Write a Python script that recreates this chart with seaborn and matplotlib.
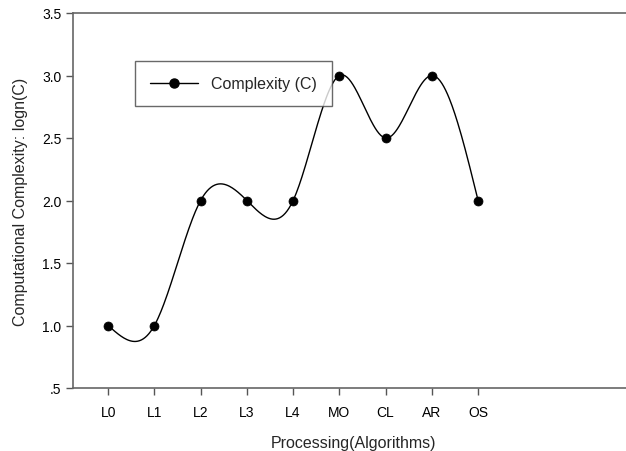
import numpy as np
import pandas as pd
import matplotlib
matplotlib.use("Agg")
import matplotlib.pyplot as plt
import seaborn as sns
from matplotlib.lines import Line2D

categories = ["L0", "L1", "L2", "L3", "L4", "MO", "CL", "AR", "OS"]
complexity = [1.0, 1.0, 2.0, 2.0, 2.0, 3.0, 2.5, 3.0, 2.0]
ytick_vals = [0.5, 1.0, 1.5, 2.0, 2.5, 3.0, 3.5]
ytick_labels = [".5", "1.0", "1.5", "2.0", "2.5", "3.0", "3.5"]

sns.set_style("ticks")
plt.rcParams["font.family"] = ["Liberation Sans", "DejaVu Sans"]


def natural_spline(x, y, n=400):
    x = np.asarray(x, float)
    y = np.asarray(y, float)
    m = len(x)
    h = np.diff(x)
    A = np.zeros((m, m))
    b = np.zeros(m)
    A[0, 0] = 1
    A[-1, -1] = 1
    for i in range(1, m - 1):
        A[i, i - 1] = h[i - 1]
        A[i, i] = 2 * (h[i - 1] + h[i])
        A[i, i + 1] = h[i]
        b[i] = 3 * ((y[i + 1] - y[i]) / h[i] - (y[i] - y[i - 1]) / h[i - 1])
    c = np.linalg.solve(A, b)
    xs = np.linspace(x[0], x[-1], n)
    ys = np.empty_like(xs)
    for k, xv in enumerate(xs):
        i = min(np.searchsorted(x, xv, side="right") - 1, m - 2)
        dx = xv - x[i]
        bi = (y[i + 1] - y[i]) / h[i] - h[i] * (2 * c[i] + c[i + 1]) / 3
        di = (c[i + 1] - c[i]) / (3 * h[i])
        ys[k] = y[i] + bi * dx + c[i] * dx ** 2 + di * dx ** 3
    return xs, ys


df = pd.DataFrame({"x": np.arange(len(categories)), "y": complexity})
xs, ys = natural_spline(df["x"], df["y"])
curve = pd.DataFrame({"x": xs, "y": ys})

fig = plt.figure(figsize=(6.26, 4.52), dpi=100)
ax = fig.add_axes([73 / 626, 1 - 389 / 452, 560 / 626, (389 - 14) / 452])

sns.lineplot(data=curve, x="x", y="y", ax=ax, color="black", linewidth=1.0,
             sort=False, estimator=None)
sns.scatterplot(data=df, x="x", y="y", ax=ax, color="black", s=42,
                edgecolor="black", zorder=3)

ax.set_xlim(-0.76, 11.35)
ax.set_ylim(0.5, 3.5)
ax.set_xticks(range(len(categories)))
ax.set_xticklabels(categories)
ax.set_yticks(ytick_vals)
ax.set_yticklabels(ytick_labels)
ax.tick_params(axis="both", labelsize=10, direction="out", length=5,
               width=1, color="#555555", labelcolor="black")
ax.tick_params(axis="x", pad=7)
ax.set_xlabel("Processing(Algorithms)", fontsize=11.5, labelpad=12)
ax.set_ylabel("Computational Complexity: logn(C)", fontsize=11.5, labelpad=10)

for side in ["left", "bottom", "top"]:
    ax.spines[side].set_color("#666666")
    ax.spines[side].set_linewidth(1.2)
ax.spines["right"].set_visible(False)

handle = Line2D([0], [0], color="black", linewidth=1.0, marker="o",
                markersize=6.5, markerfacecolor="black")
leg = ax.legend([handle], ["Complexity (C)"], loc="upper left",
                bbox_to_anchor=((135 - 73) / 560, 1 - (62 - 14) / 375),
                frameon=True, fancybox=False, edgecolor="#444444",
                fontsize=11.5, handlelength=3.0, borderpad=0.95,
                handletextpad=0.8, borderaxespad=0)
leg.get_frame().set_linewidth(1.0)

fig.savefig("out.png", dpi=100)
